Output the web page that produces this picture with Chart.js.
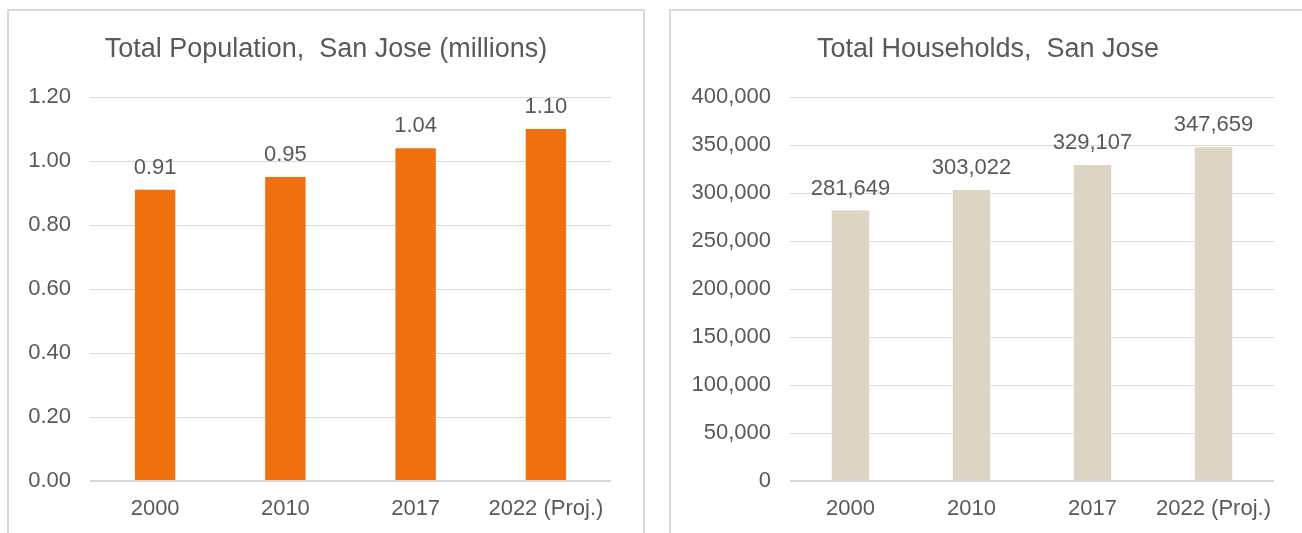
<!doctype html>
<html lang="en">
  <head>
    <meta charset="utf-8">
    <title>San Jose Population and Households</title>
    <style>
      * {
        margin: 0;
        padding: 0;
      }
      body {
        width: 1302px;
        height: 533px;
        background: #fff;
        position: relative;
        overflow: hidden;
        font-family: "Liberation Sans", Arial, sans-serif;
      }
      .frame {
        position: absolute;
        border: 2px solid #d9d9d9;
        box-sizing: border-box;
      }
      #popFrame { left: 7px; top: 9px; width: 638px; height: 560px; }
      #hhFrame { left: 669px; top: 9px; width: 660px; height: 560px; }
      canvas {
        position: absolute;
        top: 0;
      }
      #popChart { left: 0; }
      #hhChart { left: 660px; }
    </style>
  </head>
  <body>
    <div class="frame" id="popFrame"></div>
    <div class="frame" id="hhFrame"></div>
    <canvas id="popChart" width="650" height="533"></canvas>
    <canvas id="hhChart" width="642" height="533"></canvas>
    <script src="https://cdn.jsdelivr.net/npm/chart.js"></script>
    <script>
    // data
    const years = ['2000', '2010', '2017', '2022 (Proj.)'];
    const population = [0.91, 0.95, 1.04, 1.10];
    const households = [281649, 303022, 329107, 347659];

    const textColor = '#595959';
    const gridColor = '#d9d9d9';
    const fontFamily = '"Liberation Sans", Arial, sans-serif';

    // value labels above each bar
    const barLabels = {
      id: 'barLabels',
      afterDatasetsDraw(chart, args, opts) {
        const ctx = chart.ctx;
        const ds = chart.data.datasets[0];
        ctx.save();
        ctx.font = '22px ' + fontFamily;
        ctx.fillStyle = textColor;
        ctx.textAlign = 'center';
        ctx.textBaseline = 'alphabetic';
        chart.getDatasetMeta(0).data.forEach((bar, i) => {
          ctx.fillText(opts.format(ds.data[i]), bar.x, bar.y - 16);
        });
        ctx.restore();
      }
    };

    // centre the title on the frame rather than on the padded layout box
    const titleCentre = {
      id: 'titleCentre',
      afterLayout(chart, args, opts) {
        const t = chart.titleBlock;
        const half = (t.right - t.left) / 2;
        t.left = opts.x - half;
        t.right = opts.x + half;
      }
    };

    function makeChart(id, title, values, color, yMax, yStep, fmt, yWidth, pad, titleX) {
      return new Chart(document.getElementById(id), {
        type: 'bar',
        data: {
          labels: years,
          datasets: [{
            data: values,
            backgroundColor: color,
            categoryPercentage: 1,
            barPercentage: 0.31
          }]
        },
        options: {
          responsive: false,
          animation: false,
          layout: { padding: pad },
          plugins: {
            legend: { display: false },
            tooltip: { enabled: false },
            title: {
              display: true,
              text: title,
              color: textColor,
              font: { family: fontFamily, size: 27, weight: 'normal' },
              padding: { top: 0, bottom: 31.6 }
            },
            barLabels: { format: fmt },
            titleCentre: { x: titleX }
          },
          scales: {
            x: {
              grid: { display: false },
              border: { display: false },
              ticks: {
                color: textColor,
                font: { family: fontFamily, size: 22 },
                padding: 7
              },
              afterFit(scale) { scale.height = 52; }
            },
            y: {
              min: 0,
              max: yMax,
              border: { display: false },
              grid: {
                color: gridColor,
                drawTicks: false,
                lineWidth: (c) => c.tick && c.tick.value === 0 ? 2 : 1
              },
              ticks: {
                stepSize: yStep,
                color: textColor,
                font: { family: fontFamily, size: 22 },
                padding: 19,
                callback: (v) => fmt(v)
              },
              afterFit(scale) { scale.width = yWidth; }
            }
          }
        },
        plugins: [barLabels, titleCentre]
      });
    }

    makeChart('popChart', 'Total Population,  San Jose (millions)', population,
      '#ee700e', 1.2, 0.2, (v) => v.toFixed(2), 90,
      { top: 33, right: 39, bottom: 0, left: 0 }, 326);

    makeChart('hhChart', 'Total Households,  San Jose', households,
      '#dcd5c4', 400000, 50000, (v) => v.toLocaleString('en-US'), 130,
      { top: 33, right: 28, bottom: 0, left: 0 }, 328);
    </script>
  </body>
</html>
